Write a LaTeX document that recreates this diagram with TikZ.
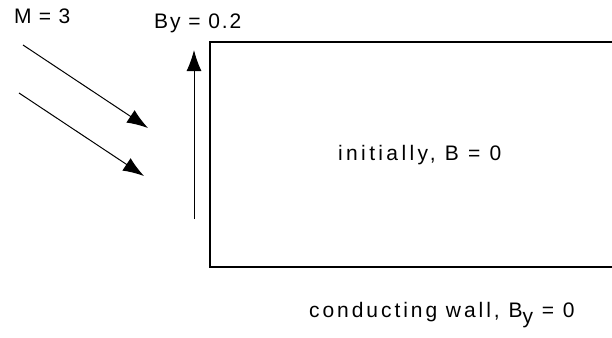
\documentclass[tikz,border=0pt]{standalone}
\usepackage{fontspec}
\setmainfont{Liberation Sans}
\usetikzlibrary{arrows.meta}
\tikzset{
  lbl/.style={inner sep=0pt, anchor=base west, font=\fontsize{21}{25}\selectfont},
  wall/.style={line width=1.5pt},
  flow/.style={line width=1pt, -{Latex[length=21pt,width=15pt]}}
}
\begin{document}
\begin{tikzpicture}[x=1pt,y=-1pt]
\useasboundingbox (0,0) rectangle (612,337);
\node[lbl] (m) at (14,24) {\addfontfeature{LetterSpace=7}M = 3};
\node[lbl] (by) at (154,29) {\addfontfeature{LetterSpace=9}By = 0.2};
\node[lbl] (init) at (338,160) {\addfontfeature{LetterSpace=16}initially, B = 0};
\node[lbl] (cond) at (309,317) {\addfontfeature{LetterSpace=14}conducting wall, B\raisebox{-0.3em}{y} = 0};
\coordinate (r1) at (612,42);
\coordinate (r2) at (210,42);
\coordinate (r3) at (210,267);
\coordinate (r4) at (612,267);
\draw[wall] (r1) -- (r2) -- (r3) -- (r4);
\coordinate (v0) at (194,219);
\coordinate (v1) at (194,50);
\draw[flow] (v0) -- (v1);
\coordinate (a0) at (23,45);
\coordinate (a1) at (148,128);
\coordinate (b0) at (19,93);
\coordinate (b1) at (144,176);
\draw[flow] (a0) -- (a1);
\draw[flow] (b0) -- (b1);
\end{tikzpicture}
\end{document}
